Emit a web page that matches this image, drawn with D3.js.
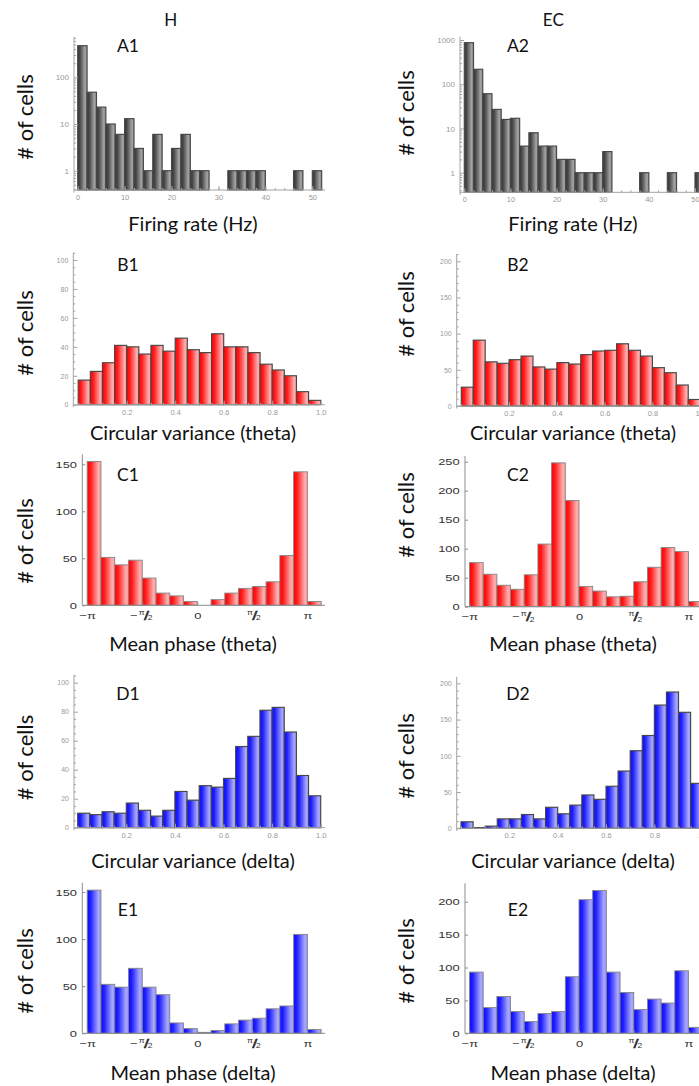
<!DOCTYPE html>
<html><head><meta charset="utf-8">
<script src="https://cdn.jsdelivr.net/npm/d3@7"></script>
<style>body{margin:0;background:#fff}svg{display:block}</style>
</head><body>
<script>
// ---------- data ----------
// firing-rate histograms (2 Hz bins, log count axis)
const rateBinStarts = [0,2,4,6,8,10,12,14,16,18,20,22,24,26,28,30,32,34,36,38,40,42,44,46,48,50];
const rateTicks = [0,10,20,30,40,50];
const a1Counts = [475,48,23,10,6,13,3,1,6,1,3,6,1,1,0,0,1,1,1,1,0,0,0,1,0,1];
const a2Counts = [870,218,61,27,16,17,4,8,4,4,2,2,1,1,1,3,0,0,0,1,0,0,1,0,0,1];
const logTicksH = [1,10,100];
const logTicksEC = [1,10,100,1000];

// circular-variance histograms (0.05 bins)
const cvBinStarts = [0,0.05,0.1,0.15,0.2,0.25,0.3,0.35,0.4,0.45,0.5,0.55,0.6,0.65,0.7,0.75,0.8,0.85,0.9,0.95];
const cvTicks = [0.2,0.4,0.6,0.8,1.0];
const b1Counts = [17,23,29,41,40,35,41,37,46,38,36,49,40,40,36,28,24,20,9,3];
const b2Counts = [26,91,61,59,64,69,54,51,60,58,71,76,77,86,77,69,53,46,29,9];
const d1Counts = [10,9,11,10,17,12,8,12,25,19,29,28,34,56,63,81,83,66,36,22];
const d2Counts = [9,1,3,13,13,19,13,29,20,32,46,40,58,79,107,128,170,188,160,62];
const b1YTicks = [0,20,40,60,80,100];
const b2YTicks = [0,50,100,150,200];

// mean-phase histograms (bins of pi/8, bin index k starts at k*pi/8)
const phaseBinSteps = [-8,-7,-6,-5,-4,-3,-2,-1,0,1,2,3,4,5,6,7,8];
const phaseTickSteps = [-8,-4,0,4,8];
const phaseTickLabels = ['−π','−π/2','0','π/2','π'];
const c1Counts = [153,51,43,48,29,13,10,4,0,6,13,18,20,25,53,142,4];
const c2Counts = [76,56,37,30,55,108,248,183,35,27,17,18,43,68,102,95,9];
const e1Counts = [152,52,49,69,49,41,11,5,1,3,10,14,16,26,29,105,4];
const e2Counts = [93,39,56,33,18,30,33,86,203,217,93,62,36,52,46,95,9];
const c1YTicks = [0,50,100,150];
const c2YTicks = [0,50,100,150,200,250];
const e2YTicks = [0,50,100,150,200];

const columnTitles = ['H','EC'];
const yLabel = '# of cells';

// ---------- drawing ----------
const W = 699, H = 1086;
const svg = d3.select('body').append('svg').attr('width', W).attr('height', H);
const defs = svg.append('defs');
function gradient(id, stops) {
  const lg = defs.append('linearGradient').attr('id', id)
    .attr('x1', 0).attr('x2', 1).attr('y1', 0).attr('y2', 0);
  stops.forEach(([o, c]) => lg.append('stop').attr('offset', o).attr('stop-color', c));
}
gradient('gGray', [[0, '#353535'], [0.25, '#4a4a4a'], [0.78, '#a4a4a4'], [1, '#888888']]);
gradient('gRed', [[0, '#ff0000'], [0.25, '#ff1c1c'], [0.82, '#ffaeae'], [1, '#ff9a9a']]);
gradient('gBlue', [[0, '#0a0aff'], [0.25, '#2222ff'], [0.82, '#a8a8ff'], [1, '#9494ff']]);

const LABEL_FONT = 'Lato, "Open Sans", sans-serif';
const TICK_FONT = '"Liberation Sans", Arial, sans-serif';
const PI = Math.PI;
const phaseBinStarts = phaseBinSteps.map(k => k * PI / 8);
const phaseTicks = phaseTickSteps.map(k => k * PI / 8);

const panels = [
  { name:'A1', kind:'mma', fill:'gGray', log:true, counts:a1Counts, starts:rateBinStarts, bw:2,
    xd:[0,50], xr:[77.7,312.3], yd:[1,100], yr:[170.7,77.3], left:74, bottom:190, top:37, right:325,
    xTicks:rateTicks, xMinor:2, xFmt:d3.format('d'), yTicks:logTicksH, yFmt:d3.format('d'), tickFs:8,
    tag:[128,52], yl:[33,117], xl:[193,230.5,'Firing rate (Hz)'] },
  { name:'A2', kind:'mma', fill:'gGray', log:true, counts:a2Counts, starts:rateBinStarts, bw:2,
    xd:[0,50], xr:[464.3,695], yd:[1,1000], yr:[172.7,40], left:460, bottom:192.3, top:36.7, right:720,
    xTicks:rateTicks, xMinor:2, xFmt:d3.format('d'), yTicks:logTicksEC, yFmt:d3.format('d'), tickFs:8,
    tag:[518,52], yl:[414,113], xl:[573,230.5,'Firing rate (Hz)'] },
  { name:'B1', kind:'mma', fill:'gRed', counts:b1Counts, starts:cvBinStarts, bw:0.05,
    xd:[0,1], xr:[78.2,320.7], yd:[0,100], yr:[404.7,260], left:73.3, bottom:404.7, top:252.7, right:325,
    xTicks:cvTicks, xMinor:0.05, xFmt:d3.format('.1f'), yTicks:b1YTicks, yMinor:5, yFmt:d3.format('d'), tickFs:7,
    tag:[128,271], yl:[33,333], xl:[193,439.5,'Circular variance (theta)'] },
  { name:'B2', kind:'mma', fill:'gRed', counts:b2Counts, starts:cvBinStarts, bw:0.05,
    xd:[0,1], xr:[461.3,700.2], yd:[0,200], yr:[406,261.3], left:456.7, bottom:406, top:254, right:720,
    xTicks:cvTicks, xMinor:0.05, xFmt:d3.format('.1f'), yTicks:b2YTicks, yMinor:10, yFmt:d3.format('d'), tickFs:7,
    tag:[518,270.5], yl:[414,314], xl:[573,439.5,'Circular variance (theta)'] },
  { name:'C1', kind:'mat', fill:'gRed', counts:c1Counts, starts:phaseBinStarts, bw:PI/8,
    xd:[-PI,PI], xr:[87.2,307.4], yd:[0,150], yr:[605.3,464.3], left:82.3, bottom:605.3, top:454.3, right:325,
    yTicks:c1YTicks,
    tag:[128,481], yl:[33,541], xl:[193,651,'Mean phase (theta)'] },
  { name:'C2', kind:'mat', fill:'gRed', counts:c2Counts, starts:phaseBinStarts, bw:PI/8,
    xd:[-PI,PI], xr:[469.5,688.5], yd:[0,250], yr:[606.7,461.7], left:465, bottom:606.7, top:456, right:720,
    yTicks:c2YTicks,
    tag:[518,481], yl:[414,515], xl:[573,651,'Mean phase (theta)'] },
  { name:'D1', kind:'mma', fill:'gBlue', counts:d1Counts, starts:cvBinStarts, bw:0.05,
    xd:[0,1], xr:[77.7,320.7], yd:[0,100], yr:[827.7,682.7], left:74, bottom:827.7, top:675, right:325,
    xTicks:cvTicks, xMinor:0.05, xFmt:d3.format('.1f'), yTicks:b1YTicks, yMinor:5, yFmt:d3.format('d'), tickFs:7,
    tag:[128,699.5], yl:[33,757.5], xl:[193,867.5,'Circular variance (delta)'] },
  { name:'D2', kind:'mma', fill:'gBlue', counts:d2Counts, starts:cvBinStarts, bw:0.05,
    xd:[0,1], xr:[461,702.7], yd:[0,200], yr:[828.3,683.3], left:456.7, bottom:828.3, top:676.7, right:720,
    xTicks:cvTicks, xMinor:0.05, xFmt:d3.format('.1f'), yTicks:b2YTicks, yMinor:10, yFmt:d3.format('d'), tickFs:7,
    tag:[518,699.5], yl:[414,756], xl:[573,867.5,'Circular variance (delta)'] },
  { name:'E1', kind:'mat', fill:'gBlue', counts:e1Counts, starts:phaseBinStarts, bw:PI/8,
    xd:[-PI,PI], xr:[87.2,307.4], yd:[0,150], yr:[1033.3,892], left:82.3, bottom:1033.3, top:882.7, right:325,
    yTicks:c1YTicks,
    tag:[128,915.5], yl:[33,971], xl:[193,1080,'Mean phase (delta)'] },
  { name:'E2', kind:'mat', fill:'gBlue', counts:e2Counts, starts:phaseBinStarts, bw:PI/8,
    xd:[-PI,PI], xr:[469.5,688.5], yd:[0,200], yr:[1033.3,901.7], left:465, bottom:1033.3, top:883.3, right:720,
    yTicks:e2YTicks,
    tag:[518,915.5], yl:[414,961], xl:[573,1080,'Mean phase (delta)'] }
];

// "−π/2"-style labels: small raised pi, heavy slanted slash, small lowered 2
function writePhaseLabel(text, i) {
  const lab = phaseTickLabels[i];
  text.text(null);
  if (lab.includes('/')) {
    const [num, den] = lab.split('/');
    if (num.startsWith('−')) text.append('tspan').text('−').attr('dx', -1);
    text.append('tspan').attr('font-size', 6.5).attr('dy', -3.8).attr('dx', 0.8).text('π');
    text.append('tspan').attr('font-family', '"DejaVu Sans", sans-serif')
      .attr('font-size', 10.5).attr('font-weight', 'bold')
      .attr('stroke', '#111').attr('stroke-width', 0.4).attr('dy', 3.8).attr('dx', -0.6).text('/');
    text.append('tspan').attr('font-size', 6.5).attr('dy', 1.8).attr('dx', -0.9).text(den);
  } else {
    text.text(lab);
  }
}

function drawPanel(p) {
  const g = svg.append('g').attr('class', 'panel ' + p.name);
  const x = d3.scaleLinear().domain(p.xd).range(p.xr);
  const y = (p.log ? d3.scaleLog() : d3.scaleLinear()).domain(p.yd).range(p.yr);
  const base = p.log ? p.bottom : y(0);
  const mma = p.kind === 'mma';

  // bars
  const bins = p.starts.map((s, i) => ({ x0: s, x1: s + p.bw, n: p.counts[i] })).filter(d => d.n > 0);
  g.append('g').selectAll('rect').data(bins).join('rect')
    .attr('x', d => x(d.x0)).attr('width', d => x(d.x1) - x(d.x0))
    .attr('y', d => y(d.n)).attr('height', d => base - y(d.n))
    .attr('fill', `url(#${p.fill})`)
    .attr('stroke', mma ? '#474747' : '#858585')
    .attr('stroke-width', mma ? 1.15 : 0.9);

  const axisCol = mma ? '#a3a3a3' : '#8c8c8c';
  // axis lines
  g.append('line').attr('x1', p.left).attr('x2', p.left)
    .attr('y1', p.bottom + (mma ? 2.5 : 0)).attr('y2', p.top)
    .attr('stroke', axisCol).attr('stroke-width', 1);
  g.append('line').attr('x1', p.left).attr('x2', Math.min(p.right, W))
    .attr('y1', p.bottom).attr('y2', p.bottom)
    .attr('stroke', axisCol).attr('stroke-width', 1);

  const styleAxis = (ax) => {
    ax.select('.domain').remove();
    ax.attr('font-family', TICK_FONT).attr('font-size', null);
    ax.selectAll('line').attr('stroke', axisCol);
  };

  if (mma) {
    // minor ticks
    let yMinor;
    if (p.log) yMinor = d3.scaleLog().domain([y.invert(p.bottom), y.invert(p.top)]).ticks();
    else yMinor = d3.range(0, y.invert(p.top), p.yMinor);
    const xMinor = d3.range(Math.ceil(x.invert(p.left) / p.xMinor) * p.xMinor, x.invert(Math.min(p.right, W)), p.xMinor);
    g.append('g').attr('transform', `translate(${p.left},0)`)
      .call(d3.axisLeft(y).tickValues(yMinor.filter(v => !p.yTicks.includes(v))).tickSize(-2).tickSizeOuter(0).tickFormat(''))
      .call(styleAxis);
    g.append('g').attr('transform', `translate(0,${p.bottom})`)
      .call(d3.axisBottom(x).tickValues(xMinor).tickSize(-2).tickSizeOuter(0).tickFormat(''))
      .call(styleAxis);
    // major ticks with labels
    const ya = g.append('g').attr('transform', `translate(${p.left},0)`)
      .call(d3.axisLeft(y).tickValues(p.yTicks).tickSize(-4).tickSizeOuter(0).tickPadding(5).tickFormat(p.yFmt))
      .call(styleAxis);
    ya.selectAll('text').attr('fill', '#999').attr('font-size', p.tickFs);
    const xa = g.append('g').attr('transform', `translate(0,${p.bottom})`)
      .call(d3.axisBottom(x).tickValues(p.xTicks).tickSize(-4).tickSizeOuter(0).tickPadding(4.5).tickFormat(p.xFmt))
      .call(styleAxis);
    xa.selectAll('text').attr('fill', '#999').attr('font-size', 7.5);
  } else {
    const ya = g.append('g').attr('transform', `translate(${p.left},0)`)
      .call(d3.axisLeft(y).tickValues(p.yTicks).tickSize(-3).tickSizeOuter(0).tickPadding(4).tickFormat(d3.format('d')))
      .call(styleAxis);
    ya.selectAll('text').attr('fill', '#333').attr('font-size', 9.8)
      .attr('transform', 'scale(1.32,1)');
    const xa = g.append('g').attr('transform', `translate(0,${p.bottom})`)
      .call(d3.axisBottom(x).tickValues(phaseTicks).tickSize(-3).tickSizeOuter(0).tickFormat(''))
      .call(styleAxis);
    xa.selectAll('text').attr('fill', '#333').attr('font-size', 9.8)
      .attr('y', 13.3).attr('dy', 0)
      .attr('transform', 'scale(1.32,1)')
      .each(function (d, i) { writePhaseLabel(d3.select(this), i); });
  }

  // panel tag
  g.append('text').attr('x', p.tag[0]).attr('y', p.tag[1]).attr('text-anchor', 'middle')
    .attr('font-family', LABEL_FONT).attr('font-size', 17.5).attr('fill', '#111').text(p.name);
  // axis titles
  g.append('text').attr('transform', `translate(${p.yl[0]},${p.yl[1]}) rotate(-90)`)
    .attr('text-anchor', 'middle').attr('font-family', LABEL_FONT).attr('font-size', 22)
    .attr('fill', '#111').text(yLabel);
  g.append('text').attr('x', p.xl[0]).attr('y', p.xl[1]).attr('text-anchor', 'middle')
    .attr('font-family', LABEL_FONT).attr('font-size', 20).attr('fill', '#111').text(p.xl[2]);
}

panels.forEach(drawPanel);

// column titles
svg.selectAll('text.col').data(columnTitles).join('text').attr('class', 'col')
  .attr('x', (d, i) => [170.7, 553.3][i]).attr('y', 25.5)
  .attr('text-anchor', 'middle').attr('font-family', LABEL_FONT).attr('font-size', 17)
  .attr('fill', '#111').text(d => d);
</script>
</body></html>
